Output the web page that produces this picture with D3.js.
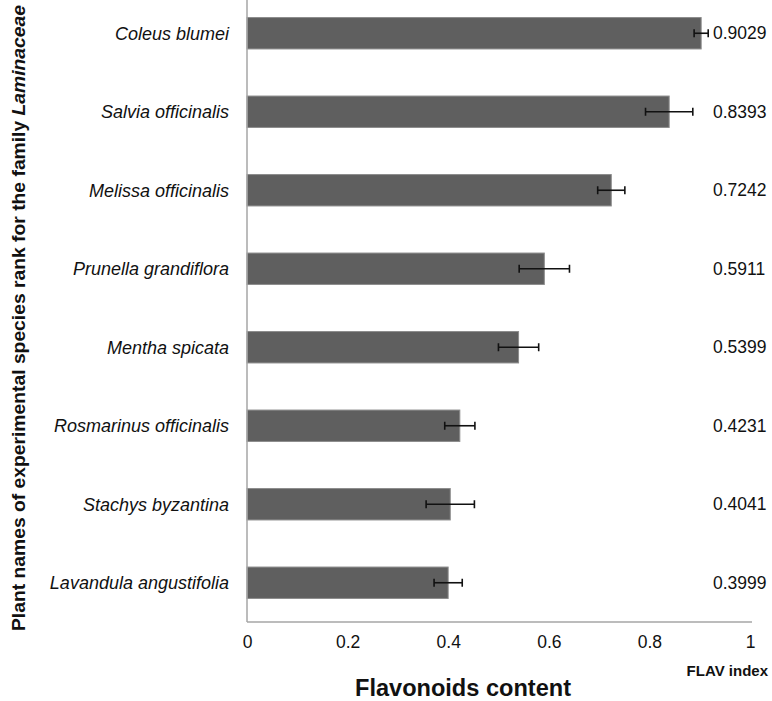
<!DOCTYPE html>
<html>
<head>
<meta charset="utf-8">
<script src="https://cdn.jsdelivr.net/npm/d3@7"></script>
<style>
  html, body { margin: 0; padding: 0; background: #fff; }
  svg { display: block; font-family: "Liberation Sans", Arial, sans-serif; }
</style>
</head>
<body>
<svg id="chart" width="772" height="701"></svg>
<script>
const species = ["Coleus blumei", "Salvia officinalis", "Melissa officinalis", "Prunella grandiflora",
  "Mentha spicata", "Rosmarinus officinalis", "Stachys byzantina", "Lavandula angustifolia"];
const flavValues = [0.9029, 0.8393, 0.7242, 0.5911, 0.5399, 0.4231, 0.4041, 0.3999];
const flavErrors = [0.014, 0.047, 0.027, 0.05, 0.04, 0.03, 0.048, 0.028];
const xTicks = [0, 0.2, 0.4, 0.6, 0.8, 1];
const xTickLabels = ["0", "0.2", "0.4", "0.6", "0.8", "1"];

(function () {
const svg = d3.select("#chart");
const mLeft = 247, mRight = 750, mTop = -6, mBottom = 622;

const x = d3.scaleLinear().domain([0, 1]).range([mLeft, mRight]);
const y = d3.scaleBand().domain(species).range([mTop, mBottom]).paddingInner(0.6).paddingOuter(0.3);

// bars
svg.append("g").selectAll("rect").data(species).join("rect")
  .attr("x", x(0))
  .attr("y", d => y(d))
  .attr("width", (d, i) => x(flavValues[i]) - x(0))
  .attr("height", y.bandwidth())
  .attr("fill", "#5f5f5f")
  .attr("stroke", "#8c8c8c")
  .attr("stroke-width", 1);

// error bars
const eb = svg.append("g").attr("stroke", "#111").attr("stroke-width", 1.6);
species.forEach((s, i) => {
  const cy = y(s) + y.bandwidth() / 2;
  const x1 = x(flavValues[i] - flavErrors[i]), x2 = x(flavValues[i] + flavErrors[i]);
  eb.append("line").attr("x1", x1).attr("x2", x2).attr("y1", cy).attr("y2", cy);
  eb.append("line").attr("x1", x1).attr("x2", x1).attr("y1", cy - 4).attr("y2", cy + 4);
  eb.append("line").attr("x1", x2).attr("x2", x2).attr("y1", cy - 4).attr("y2", cy + 4);
});

// axes lines
svg.append("line").attr("x1", x(0)).attr("x2", x(0)).attr("y1", 0).attr("y2", mBottom)
  .attr("stroke", "#a6a6a6").attr("stroke-width", 1.5);
svg.append("line").attr("x1", x(0)).attr("x2", x(1) + 2).attr("y1", mBottom).attr("y2", mBottom)
  .attr("stroke", "#a6a6a6").attr("stroke-width", 1.5);

// x tick labels
const xAxis = d3.axisBottom(x).tickValues(xTicks).tickSize(0).tickPadding(0)
  .tickFormat((d, i) => xTickLabels[i]);
const gx = svg.append("g").attr("transform", `translate(0,${mBottom + 14})`).call(xAxis);
gx.select(".domain").remove();
gx.selectAll("text").attr("font-size", 17.5).attr("fill", "#111")
  .attr("font-family", "Liberation Sans, Arial, sans-serif").attr("dy", "0.71em");

// category labels
svg.append("g").selectAll("text").data(species).join("text")
  .attr("x", 229)
  .attr("y", d => y(d) + y.bandwidth() / 2)
  .attr("dy", "0.35em")
  .attr("text-anchor", "end")
  .attr("font-size", 18)
  .attr("font-style", "italic")
  .attr("fill", "#111")
  .text(d => d);

// value labels
svg.append("g").selectAll("text").data(species).join("text")
  .attr("x", 713)
  .attr("y", d => y(d) + y.bandwidth() / 2)
  .attr("dy", "0.35em")
  .attr("font-size", 17.5)
  .attr("fill", "#111")
  .text((d, i) => flavValues[i].toFixed(4));

// titles
svg.append("text").attr("x", 463).attr("y", 696).attr("text-anchor", "middle")
  .attr("font-size", 23).attr("font-weight", "bold").attr("fill", "#111")
  .attr("textLength", 216).attr("lengthAdjust", "spacingAndGlyphs")
  .text("Flavonoids content");
svg.append("text").attr("x", 768).attr("y", 676).attr("text-anchor", "end")
  .attr("font-size", 15).attr("font-weight", "bold").attr("fill", "#111")
  .text("FLAV index");

const yt = svg.append("text").attr("transform", "translate(25,318) rotate(-90)")
  .attr("text-anchor", "middle").attr("font-size", 19).attr("font-weight", "bold").attr("fill", "#111")
  .attr("textLength", 626).attr("lengthAdjust", "spacingAndGlyphs");
yt.append("tspan").text("Plant names of experimental species rank for the family ");
yt.append("tspan").attr("font-style", "italic").text("Laminaceae");
})();
</script>
</body>
</html>
